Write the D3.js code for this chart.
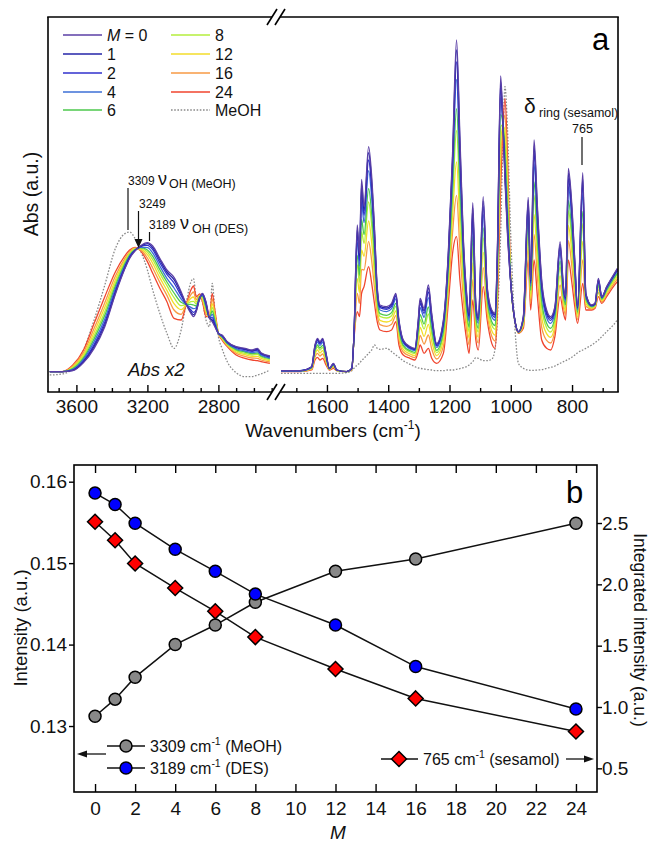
<!DOCTYPE html>
<html><head><meta charset="utf-8">
<script src="https://cdn.jsdelivr.net/npm/d3@7"></script>
<style>
body{margin:0;background:#fff;}
svg{display:block;font-family:"Liberation Sans",Arial,Helvetica,sans-serif;}
</style></head><body>
<svg id="c" width="651" height="842"></svg>
<script>
// ---------------- DATA: panel a (FTIR spectra) ----------------
const seriesM = [0, 1, 2, 4, 6, 8, 12, 16, 24];
const seriesColors = ["#5b3fa6", "#2424a8", "#3030cc", "#3d6fd6", "#4cc94c", "#b5ee3c", "#f3dd2a", "#f79a45", "#f0452e"];

// high-wavenumber region (cm-1), shown "Abs x2"
const wnLeft = [3750,3680,3620,3560,3500,3440,3380,3330,3300,3270,3240,3200,3170,3130,3090,3050,3010,2980,2955,2940,2925,2905,2890,2870,2850,2835,2820,2800,2780,2750,2700,2650,2610,2580,2560,2510];
const left_M0  = [.61,.61,.64,.88,1.31,1.96,2.94,3.66,4.01,4.23,4.38,4.48,4.38,4.01,3.66,3.44,3.01,2.61,2.36,2.26,2.41,2.81,2.96,2.71,2.21,2.11,1.96,1.76,1.71,1.51,1.36,1.31,1.26,1.31,1.18,1.08];
const left_M1  = [.61,.61,.65,.90,1.36,2.01,2.98,3.68,4.03,4.24,4.37,4.45,4.33,3.96,3.60,3.37,2.96,2.61,2.40,2.32,2.44,2.82,2.95,2.68,2.21,2.16,1.99,1.76,1.70,1.50,1.35,1.29,1.24,1.29,1.16,1.07];
const left_M2  = [.61,.61,.66,.93,1.42,2.09,3.03,3.72,4.05,4.25,4.36,4.40,4.27,3.88,3.53,3.27,2.89,2.62,2.46,2.39,2.47,2.83,2.93,2.65,2.22,2.23,2.03,1.76,1.69,1.49,1.33,1.27,1.22,1.26,1.14,1.05];
const left_M4  = [.61,.61,.68,.98,1.51,2.19,3.11,3.76,4.08,4.26,4.34,4.33,4.17,3.78,3.41,3.12,2.79,2.62,2.54,2.50,2.53,2.84,2.90,2.59,2.22,2.33,2.09,1.76,1.67,1.47,1.30,1.23,1.18,1.21,1.11,1.02];
const left_M6  = [.61,.61,.70,1.02,1.60,2.30,3.19,3.81,4.11,4.27,4.33,4.26,4.07,3.67,3.30,2.97,2.69,2.63,2.63,2.61,2.58,2.86,2.87,2.54,2.23,2.43,2.15,1.76,1.65,1.45,1.27,1.20,1.15,1.17,1.08,1.00];
const left_M8  = [.61,.61,.73,1.07,1.69,2.41,3.28,3.86,4.14,4.29,4.31,4.20,3.97,3.56,3.19,2.83,2.59,2.64,2.71,2.72,2.64,2.88,2.84,2.49,2.24,2.54,2.21,1.76,1.64,1.44,1.24,1.16,1.11,1.13,1.05,.97];
const left_M12 = [.61,.61,.75,1.12,1.79,2.54,3.37,3.92,4.17,4.30,4.29,4.12,3.86,3.43,3.05,2.65,2.47,2.64,2.81,2.85,2.70,2.89,2.80,2.42,2.24,2.65,2.28,1.76,1.61,1.41,1.20,1.12,1.07,1.07,1.01,.94];
const left_M16 = [.61,.61,.78,1.18,1.91,2.68,3.48,3.98,4.21,4.32,4.27,4.02,3.72,3.29,2.90,2.46,2.33,2.65,2.92,3.00,2.77,2.91,2.76,2.35,2.25,2.79,2.36,1.76,1.59,1.39,1.16,1.07,1.02,1.01,.96,.90];
const left_M24 = [.61,.61,.81,1.26,2.06,2.86,3.61,4.06,4.26,4.34,4.24,3.91,3.56,3.11,2.71,2.21,2.16,2.66,3.06,3.18,2.86,2.94,2.71,2.26,2.26,2.96,2.46,1.76,1.56,1.36,1.11,1.01,.96,.94,.91,.86];
const meoh_left = [.51,.54,.71,1.26,2.16,3.21,4.31,4.74,4.80,4.61,4.26,3.66,3.06,2.36,1.76,1.31,1.86,2.71,3.30,3.40,2.86,2.81,2.71,2.16,1.96,3.26,2.46,1.66,1.31,.91,.58,.46,.46,.51,.54,.66];

// fingerprint region (cm-1)
const wnRight = [1750,1688,1650,1639,1631,1623,1614,1603,1592,1579,
1568,1536,1519,1512,1501,1494,1487,1479,1464,1454,
1445,1436,1427,1405,1389,1375,1365,1351,1329,1313,
1302,1296,1283,1269,1258,1242,1220,1204,1190,1177,
1166,1155,1144,1136,1124,1114,1106,1090,1077,1062,
1051,1044,1033,1026,1019,1011,1000,986,975,959,
943,935,924,913,899,883,870,856,839,828,
821,812,801,791,782,765,755,736,725,714,
703,687,665,652];
const right_M0 = [.64,.64,.76,1.41,1.61,1.51,1.61,1.16,.71,.86,
.66,.61,.71,1.66,5.01,4.16,6.38,5.56,7.36,6.46,
4.96,3.16,2.61,2.56,2.66,2.96,2.16,1.56,1.36,1.31,
2.16,2.81,2.51,3.21,2.36,1.46,2.16,4.16,7.16,10.56,
7.66,4.66,2.96,2.36,5.68,2.66,2.26,5.86,3.16,2.46,
2.36,4.16,9.48,8.16,6.36,4.76,3.26,2.11,1.81,2.26,
5.84,3.36,7.56,5.56,3.36,2.46,2.26,2.56,4.51,3.16,
2.86,6.71,5.66,3.96,2.56,6.58,2.96,2.61,2.66,3.41,
2.86,3.16,3.51,3.71];
const right_M1 = [.64,.64,.76,1.39,1.58,1.48,1.58,1.14,.71,.85,
.66,.61,.71,1.66,4.88,4.07,6.21,5.44,7.18,6.30,
4.85,3.11,2.57,2.52,2.62,2.92,2.12,1.54,1.34,1.29,
2.11,2.74,2.44,3.12,2.29,1.43,2.11,4.09,7.01,10.27,
7.45,4.55,2.89,2.30,5.53,2.61,2.21,5.73,3.11,2.41,
2.31,4.07,9.31,8.15,6.48,4.88,3.27,2.11,1.81,2.24,
5.75,3.32,7.38,5.43,3.27,2.40,2.21,2.52,4.43,3.12,
2.83,6.57,5.54,3.89,2.54,6.41,2.94,2.60,2.65,3.38,
2.85,3.15,3.49,3.69];
const right_M2 = [.64,.64,.75,1.36,1.55,1.45,1.54,1.12,.70,.84,
.66,.61,.70,1.65,4.72,3.95,6.00,5.30,6.96,6.11,
4.71,3.04,2.53,2.48,2.57,2.87,2.08,1.51,1.32,1.27,
2.06,2.66,2.36,3.00,2.21,1.39,2.05,4.00,6.83,9.91,
7.19,4.41,2.81,2.23,5.36,2.54,2.15,5.56,3.05,2.35,
2.24,3.96,9.12,8.13,6.63,5.02,3.27,2.11,1.80,2.22,
5.63,3.26,7.16,5.26,3.16,2.33,2.15,2.46,4.33,3.07,
2.78,6.41,5.40,3.81,2.51,6.22,2.91,2.59,2.64,3.35,
2.84,3.13,3.47,3.67];
const right_M4 = [.63,.63,.74,1.32,1.50,1.40,1.49,1.09,.70,.83,
.66,.61,.70,1.64,4.49,3.78,5.70,5.08,6.64,5.82,
4.50,2.95,2.46,2.41,2.50,2.79,2.01,1.47,1.29,1.24,
1.97,2.53,2.24,2.83,2.09,1.34,1.96,3.86,6.56,9.38,
6.80,4.20,2.68,2.12,5.10,2.44,2.06,5.32,2.96,2.26,
2.15,3.80,8.82,8.10,6.85,5.24,3.28,2.11,1.80,2.19,
5.46,3.18,6.84,5.02,3.00,2.23,2.06,2.38,4.18,3.00,
2.72,6.16,5.19,3.68,2.46,5.92,2.86,2.58,2.63,3.30,
2.82,3.10,3.44,3.63];
const right_M6 = [.63,.63,.73,1.25,1.41,1.32,1.40,1.04,.69,.81,
.65,.61,.69,1.63,4.10,3.50,5.18,4.72,6.10,5.34,
4.16,2.79,2.35,2.30,2.38,2.66,1.90,1.40,1.24,1.19,
1.83,2.32,2.04,2.55,1.89,1.25,1.81,3.64,6.11,8.50,
6.16,3.86,2.47,1.94,4.66,2.28,1.91,4.92,2.81,2.11,
1.99,3.53,8.32,8.06,7.22,5.60,3.30,2.11,1.79,2.14,
5.18,3.05,6.30,4.62,2.73,2.06,1.91,2.25,3.93,2.88,
2.62,5.75,4.84,3.47,2.39,5.42,2.79,2.56,2.61,3.22,
2.79,3.06,3.39,3.57];
const right_M8 = [.63,.63,.71,1.20,1.35,1.26,1.33,1.00,.69,.79,
.65,.61,.69,1.61,3.81,3.29,4.81,4.46,5.70,4.99,
3.90,2.68,2.27,2.22,2.29,2.57,1.82,1.35,1.20,1.15,
1.72,2.17,1.89,2.34,1.74,1.18,1.70,3.47,5.78,7.85,
5.68,3.60,2.32,1.81,4.34,2.15,1.80,4.62,2.70,2.00,
1.88,3.33,7.95,8.02,7.49,5.86,3.31,2.11,1.79,2.10,
4.98,2.95,5.90,4.32,2.53,1.93,1.80,2.15,3.75,2.79,
2.54,5.44,4.58,3.32,2.33,5.05,2.73,2.54,2.59,3.16,
2.77,3.02,3.35,3.53];
const right_M12 = [.62,.62,.70,1.13,1.26,1.17,1.24,.94,.68,.77,
.65,.61,.68,1.60,3.40,2.98,4.26,4.07,5.13,4.48,
3.53,2.51,2.15,2.10,2.16,2.43,1.70,1.28,1.14,1.09,
1.57,1.94,1.67,2.03,1.52,1.09,1.54,3.23,5.30,6.90,
5.00,3.23,2.09,1.62,3.87,1.98,1.64,4.19,2.54,1.84,
1.71,3.04,7.42,7.97,7.88,6.25,3.32,2.11,1.78,2.04,
4.67,2.80,5.33,3.89,2.24,1.75,1.64,2.00,3.49,2.66,
2.43,5.00,4.20,3.09,2.25,4.52,2.65,2.52,2.57,3.07,
2.74,2.97,3.29,3.46];
const right_M16 = [.62,.62,.68,1.05,1.16,1.08,1.14,.88,.67,.74,
.64,.61,.67,1.58,2.96,2.66,3.68,3.66,4.52,3.93,
3.14,2.33,2.02,1.97,2.03,2.29,1.57,1.20,1.08,1.03,
1.41,1.70,1.44,1.71,1.29,.99,1.37,2.98,4.79,5.90,
4.26,2.84,1.85,1.41,3.37,1.79,1.47,3.73,2.37,1.67,
1.53,2.74,6.86,7.92,8.30,6.66,3.34,2.11,1.77,1.98,
4.35,2.65,4.72,3.43,1.94,1.55,1.47,1.85,3.21,2.53,
2.31,4.54,3.80,2.85,2.17,3.96,2.57,2.49,2.54,2.98,
2.70,2.92,3.23,3.39];
const right_M24 = [.61,.61,.66,.96,1.04,.96,1.01,.81,.66,.71,
.64,.61,.66,1.56,2.41,2.26,2.96,3.16,3.76,3.26,
2.66,2.11,1.86,1.81,1.86,2.11,1.41,1.11,1.01,.96,
1.21,1.41,1.16,1.31,1.01,.86,1.16,2.66,4.16,4.66,
3.36,2.36,1.56,1.16,2.76,1.56,1.26,3.16,2.16,1.46,
1.31,2.36,6.16,7.86,8.81,7.16,3.36,2.11,1.76,1.91,
3.96,2.46,3.96,2.86,1.56,1.31,1.26,1.66,2.86,2.36,
2.16,3.96,3.31,2.56,2.06,3.26,2.46,2.46,2.51,2.86,
2.66,2.86,3.16,3.31];
const meoh_right = [.56,.56,.56,.56,.56,.56,.56,.56,.56,.56,
.56,.58,.64,.71,.81,.86,.94,1.01,1.16,1.26,
1.41,1.31,1.28,1.31,1.21,1.11,1.04,.94,.83,.76,
.72,.71,.69,.67,.66,.64,.64,.66,.66,.68,
.70,.73,.76,.81,.91,1.03,1.01,.94,.94,.98,
1.31,2.16,4.76,7.36,9.16,7.96,4.66,1.86,.86,.71,
.66,.65,.65,.66,.67,.71,.74,.78,.86,.91,
.94,.98,1.04,1.11,1.18,1.26,1.31,1.41,1.48,1.56,
1.66,1.81,2.01,2.16];

const ticksLeftMajor = [3600, 3200, 2800];
const ticksLeftMinor = [3700, 3500, 3400, 3300, 3100, 3000, 2900, 2700, 2600, 2500];
const ticksRightMajor = [1600, 1400, 1200, 1000, 800];
const ticksRightMinor = [1700, 1500, 1300, 1100, 900, 700];

// ---------------- DATA: panel b ----------------
const M_values = [0, 1, 2, 4, 6, 8, 12, 16, 24];
const int3309_MeOH = [0.1312, 0.1333, 0.1360, 0.1400, 0.1424, 0.1452, 0.1490, 0.1505, 0.1549];
const int3189_DES  = [0.1586, 0.1572, 0.1549, 0.1517, 0.1490, 0.1462, 0.1424, 0.1373, 0.1321];
const int765_sesamol = [2.51, 2.36, 2.17, 1.97, 1.78, 1.57, 1.31, 1.07, 0.80];
const bTicksX = [0,2,4,6,8,10,12,14,16,18,20,22,24];
const bTicksLeft = [0.13, 0.14, 0.15, 0.16];
const bTicksRight = [0.5, 1.0, 1.5, 2.0, 2.5];

// ---------------- DRAW ----------------
const FONT = '"Liberation Sans", Arial, Helvetica, sans-serif';
const svg = d3.select("#c");
svg.append("rect").attr("width",651).attr("height",842).attr("fill","#fff");

// ===== panel a =====
const xL = d3.scaleLinear().domain([3760, 2460]).range([48, 278.75]);
const xR = d3.scaleLinear().domain([1750, 650]).range([281, 618]);
const yA = d3.scaleLinear().domain([0, 11.25]).range([392, 17]);

const leftSeries = [left_M0,left_M1,left_M2,left_M4,left_M6,left_M8,left_M12,left_M16,left_M24];
const rightSeries = [right_M0,right_M1,right_M2,right_M4,right_M6,right_M8,right_M12,right_M16,right_M24];

const lineL = d3.line().x((d,i)=>xL(wnLeft[i])).y(d=>yA(d)).curve(d3.curveMonotoneX);
const lineR = d3.line().x((d,i)=>xR(wnRight[i])).y(d=>yA(d)).curve(d3.curveMonotoneX);

const gA = svg.append("g");
gA.append("path").attr("d", lineL(meoh_left)).attr("fill","none").attr("stroke","#8a8a8a").attr("stroke-width",1.3).attr("stroke-dasharray","1.6,1.6");
gA.append("path").attr("d", lineR(meoh_right)).attr("fill","none").attr("stroke","#8a8a8a").attr("stroke-width",1.3).attr("stroke-dasharray","1.6,1.6");
for (let k = seriesM.length-1; k >= 0; k--) {
  gA.append("path").attr("d", lineL(leftSeries[k])).attr("fill","none").attr("stroke",seriesColors[k]).attr("stroke-width",1.3);
  gA.append("path").attr("d", lineR(rightSeries[k])).attr("fill","none").attr("stroke",seriesColors[k]).attr("stroke-width",1.3);
}

// frame with break
const frame = svg.append("g").attr("stroke","#000").attr("stroke-width",1.6).attr("fill","none");
frame.append("line").attr("x1",48).attr("y1",17).attr("x2",48).attr("y2",392);
frame.append("line").attr("x1",618).attr("y1",17).attr("x2",618).attr("y2",392);
[17, 392].forEach(yy => {
  frame.append("line").attr("x1",47.2).attr("y1",yy).attr("x2",272).attr("y2",yy);
  frame.append("line").attr("x1",280).attr("y1",yy).attr("x2",618.8).attr("y2",yy);
  frame.append("line").attr("x1",267).attr("y1",yy+8).attr("x2",277).attr("y2",yy-8);
  frame.append("line").attr("x1",275).attr("y1",yy+8).attr("x2",285).attr("y2",yy-8);
});

function bottomTicks(scale, vals, size, labelled) {
  const ax = d3.axisBottom(scale).tickValues(vals).tickSize(-size).tickPadding(8).tickFormat(labelled ? d3.format("d") : "");
  const g = svg.append("g").attr("transform","translate(0,392)").call(ax);
  g.select(".domain").remove();
  g.attr("font-size",19).attr("font-family",FONT);
  g.selectAll("line").attr("stroke","#000").attr("stroke-width",1.4);
  g.selectAll("text").attr("fill","#111");
}
bottomTicks(xL, ticksLeftMajor, 7, true);
bottomTicks(xL, ticksLeftMinor, 4, false);
bottomTicks(xR, ticksRightMajor, 7, true);
bottomTicks(xR, ticksRightMinor, 4, false);

// axis titles panel a
const wl = svg.append("text").attr("x",333).attr("y",437).attr("text-anchor","middle").attr("font-size",19).attr("font-family",FONT).attr("fill","#111");
wl.append("tspan").text("Wavenumbers (cm");
wl.append("tspan").attr("font-size",12).attr("dy",-8).text("-1");
wl.append("tspan").attr("dy",8).text(")");
svg.append("text").attr("transform","translate(38,194) rotate(-90)").attr("text-anchor","middle").attr("font-size",19.5).attr("font-family",FONT).attr("fill","#111").text("Abs (a.u.)");
svg.append("text").attr("x",592).attr("y",50).attr("font-size",31).attr("font-family",FONT).attr("fill","#000").text("a");

// legend panel a
const legendRows = [35, 54, 73, 92, 110];
const legendLabels = ["0","1","2","4","6","8","12","16","24"];
seriesM.forEach((m,k) => {
  const col = k < 5 ? 0 : 1;
  const row = k < 5 ? k : k-5;
  const x0 = col === 0 ? 63 : 171;
  const yy = legendRows[row];
  svg.append("line").attr("x1",x0).attr("x2",x0+39).attr("y1",yy).attr("y2",yy).attr("stroke",seriesColors[k]).attr("stroke-width",1.5);
  const t = svg.append("text").attr("x",x0+44).attr("y",yy+6).attr("font-size",16).attr("font-family",FONT).attr("fill","#111");
  if (k === 0) { t.append("tspan").attr("font-style","italic").text("M"); t.append("tspan").text(" = 0"); }
  else t.text(legendLabels[k]);
});
svg.append("line").attr("x1",171).attr("x2",210).attr("y1",110).attr("y2",110).attr("stroke","#8a8a8a").attr("stroke-width",1.3).attr("stroke-dasharray","1.6,1.6");
svg.append("text").attr("x",215).attr("y",116).attr("font-size",16).attr("font-family",FONT).attr("fill","#111").text("MeOH");

// annotations panel a
function ann(x, y, txt, fs, extra) {
  const t = svg.append("text").attr("x",x).attr("y",y).attr("font-size",fs).attr("font-family",FONT).attr("fill","#111").text(txt);
  if (extra) t.attr("font-style", extra);
  return t;
}
ann(128, 185, "3309", 12);
ann(158, 185, "ν", 18);
ann(169, 188, "OH (MeOH)", 12.5);
svg.append("line").attr("x1",128).attr("x2",128).attr("y1",188).attr("y2",230).attr("stroke","#111").attr("stroke-width",1.2);
ann(139, 208, "3249", 12);
svg.append("line").attr("x1",138.5).attr("x2",138.5).attr("y1",211).attr("y2",240).attr("stroke","#111").attr("stroke-width",1.2);
svg.append("path").attr("d","M134.5,239 L142.5,239 L138.5,248 Z").attr("fill","#111");
ann(149, 229, "3189", 12);
ann(180, 229, "ν", 18);
ann(192, 233, "OH (DES)", 12.5);
svg.append("line").attr("x1",149.5).attr("x2",149.5).attr("y1",232).attr("y2",241).attr("stroke","#111").attr("stroke-width",1.2);
ann(524, 113, "δ", 21);
ann(539, 117, "ring (sesamol)", 12.5);
ann(572, 133, "765", 12.5);
svg.append("line").attr("x1",582).attr("x2",582).attr("y1",137).attr("y2",165).attr("stroke","#111").attr("stroke-width",1.2);
ann(128, 376, "Abs x2", 18.5, "italic");

// ===== panel b =====
const xB = d3.scaleLinear().domain([-1.05, 25.05]).range([74, 597]);
const yBL = d3.scaleLinear().domain([0.1219, 0.16205]).range([792, 465]);
const yBR = d3.scaleLinear().domain([0.307, 2.973]).range([792, 465]);

svg.append("rect").attr("x",74).attr("y",465).attr("width",523).attr("height",327).attr("fill","none").attr("stroke","#000").attr("stroke-width",1.6);

const gxb = svg.append("g").attr("transform","translate(0,792)")
  .call(d3.axisBottom(xB).tickValues(bTicksX).tickSize(-8).tickPadding(10).tickFormat(d3.format("d")));
const gxt = svg.append("g").attr("transform","translate(0,465)")
  .call(d3.axisTop(xB).tickValues(bTicksX).tickSize(-8).tickFormat(""));
const gyl = svg.append("g").attr("transform","translate(74,0)")
  .call(d3.axisLeft(yBL).tickValues(bTicksLeft).tickSize(5).tickPadding(2).tickFormat(d3.format(".2f")));
const gyr = svg.append("g").attr("transform","translate(597,0)")
  .call(d3.axisRight(yBR).tickValues(bTicksRight).tickSize(5).tickPadding(0).tickFormat(d3.format(".1f")));
[gxb,gxt,gyl,gyr].forEach(g => {
  g.select(".domain").remove();
  g.attr("font-size",19).attr("font-family",FONT);
  g.selectAll("line").attr("stroke","#000").attr("stroke-width",1.4);
  g.selectAll("text").attr("fill","#111");
});

svg.append("text").attr("transform","translate(27,628) rotate(-90)").attr("text-anchor","middle").attr("font-size",18.5).attr("font-family",FONT).attr("fill","#111").text("Intensity (a.u.)");
svg.append("text").attr("transform","translate(634,630) rotate(90)").attr("text-anchor","middle").attr("font-size",17.5).attr("font-family",FONT).attr("fill","#111").text("Integrated intensity (a.u.)");
svg.append("text").attr("x",338).attr("y",839).attr("text-anchor","middle").attr("font-size",19).attr("font-style","italic").attr("font-family",FONT).attr("fill","#111").text("M");
svg.append("text").attr("x",566).attr("y",503).attr("font-size",31).attr("font-family",FONT).attr("fill","#000").text("b");

const lnL = d3.line().x((d,i)=>xB(M_values[i])).y(d=>yBL(d));
const lnR = d3.line().x((d,i)=>xB(M_values[i])).y(d=>yBR(d));
svg.append("path").attr("d",lnL(int3309_MeOH)).attr("fill","none").attr("stroke","#111").attr("stroke-width",1.5);
svg.append("path").attr("d",lnL(int3189_DES)).attr("fill","none").attr("stroke","#111").attr("stroke-width",1.5);
svg.append("path").attr("d",lnR(int765_sesamol)).attr("fill","none").attr("stroke","#111").attr("stroke-width",1.5);

function diamond(cx, cy, r) { return `M${cx},${cy-r} L${cx+r},${cy} L${cx},${cy+r} L${cx-r},${cy} Z`; }
int3309_MeOH.forEach((v,i) => svg.append("circle").attr("cx",xB(M_values[i])).attr("cy",yBL(v)).attr("r",6).attr("fill","#888").attr("stroke","#000").attr("stroke-width",1.5));
int3189_DES.forEach((v,i) => svg.append("circle").attr("cx",xB(M_values[i])).attr("cy",yBL(v)).attr("r",6).attr("fill","#0000ff").attr("stroke","#000").attr("stroke-width",1.5));
int765_sesamol.forEach((v,i) => svg.append("path").attr("d",diamond(xB(M_values[i]),yBR(v),7.5)).attr("fill","#ff0000").attr("stroke","#000").attr("stroke-width",1.5));

// legend panel b
function legText(x, y, a, b) {
  const t = svg.append("text").attr("x",x).attr("y",y).attr("font-size",16).attr("font-family",FONT).attr("fill","#111");
  t.append("tspan").text(a);
  t.append("tspan").attr("font-size",10.5).attr("dy",-7).text("-1");
  t.append("tspan").attr("dy",7).text(b);
}
svg.append("line").attr("x1",107).attr("x2",145).attr("y1",746).attr("y2",746).attr("stroke","#111").attr("stroke-width",1.5);
svg.append("circle").attr("cx",126).attr("cy",746).attr("r",6).attr("fill","#888").attr("stroke","#000").attr("stroke-width",1.5);
legText(150, 752, "3309 cm", " (MeOH)");
svg.append("line").attr("x1",107).attr("x2",145).attr("y1",768).attr("y2",768).attr("stroke","#111").attr("stroke-width",1.5);
svg.append("circle").attr("cx",126).attr("cy",768).attr("r",6).attr("fill","#0000ff").attr("stroke","#000").attr("stroke-width",1.5);
legText(150, 774, "3189 cm", " (DES)");
svg.append("line").attr("x1",106).attr("x2",85).attr("y1",754).attr("y2",754).attr("stroke","#111").attr("stroke-width",1.3);
svg.append("path").attr("d","M77,754 L87,750.5 L87,757.5 Z").attr("fill","#111");

svg.append("line").attr("x1",381).attr("x2",418).attr("y1",759).attr("y2",759).attr("stroke","#111").attr("stroke-width",1.5);
svg.append("path").attr("d",diamond(399,759,7.5)).attr("fill","#ff0000").attr("stroke","#000").attr("stroke-width",1.5);
legText(423, 765, "765 cm", " (sesamol)");
svg.append("line").attr("x1",566).attr("x2",586).attr("y1",759).attr("y2",759).attr("stroke","#111").attr("stroke-width",1.3);
svg.append("path").attr("d","M594,759 L584,755.5 L584,762.5 Z").attr("fill","#111");
</script></body></html>
